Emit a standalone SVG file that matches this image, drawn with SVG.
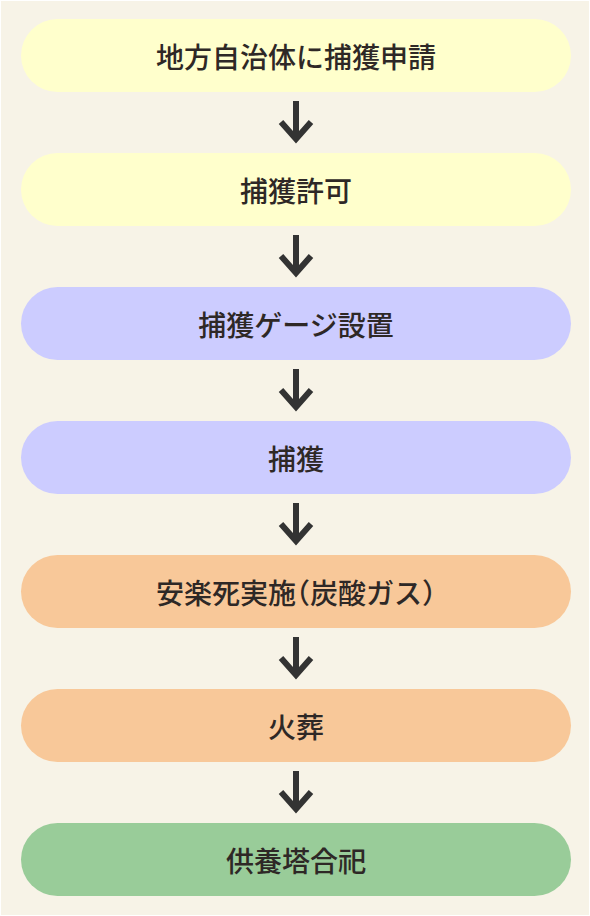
<svg xmlns="http://www.w3.org/2000/svg" width="590" height="916" viewBox="0 0 590 916">
<style>
.t{font-family:"Noto Sans CJK JP","Noto Sans",sans-serif;font-size:28px;font-weight:500;fill:#2e2826;text-anchor:middle;dominant-baseline:central}
.h{font-feature-settings:"halt" 1}
.y{fill:#ffffcc}.b{fill:#ccccff}.o{fill:#f8c899}.g{fill:#99cc99}
.a{fill:none;stroke:#333333;stroke-width:6}
</style>
<rect x="0" y="0" width="590" height="916" fill="#ffffff"/>
<rect x="1" y="1" width="588" height="914" fill="#f7f3e7"/>
<g id="n1"><rect class="y" x="21" y="19" width="550" height="73" rx="36.5"/><text class="t" x="296" y="55.5">地方自治体に捕獲申請</text></g>
<g id="n2"><rect class="y" x="21" y="153" width="550" height="73" rx="36.5"/><text class="t" x="296" y="189.5">捕獲許可</text></g>
<g id="n3"><rect class="b" x="21" y="287" width="550" height="73" rx="36.5"/><text class="t" x="296" y="323.5">捕獲ゲージ設置</text></g>
<g id="n4"><rect class="b" x="21" y="421" width="550" height="73" rx="36.5"/><text class="t" x="296" y="457.5">捕獲</text></g>
<g id="n5"><rect class="o" x="21" y="555" width="550" height="73" rx="36.5"/><text class="t" x="296" y="591.5">安楽死実施<tspan class="h">（</tspan>炭酸ガス<tspan class="h">）</tspan></text></g>
<g id="n6"><rect class="o" x="21" y="689" width="550" height="73" rx="36.5"/><text class="t" x="296" y="725.5">火葬</text></g>
<g id="n7"><rect class="g" x="21" y="823" width="550" height="73" rx="36.5"/><text class="t" x="296" y="859.5">供養塔合祀</text></g>
<g id="connectors">
<g><path class="a" d="M296 101V139M281 122L296 139L311 122"/></g>
<g transform="translate(0,134)"><path class="a" d="M296 101V139M281 122L296 139L311 122"/></g>
<g transform="translate(0,268)"><path class="a" d="M296 101V139M281 122L296 139L311 122"/></g>
<g transform="translate(0,402)"><path class="a" d="M296 101V139M281 122L296 139L311 122"/></g>
<g transform="translate(0,536)"><path class="a" d="M296 101V139M281 122L296 139L311 122"/></g>
<g transform="translate(0,670)"><path class="a" d="M296 101V139M281 122L296 139L311 122"/></g>
</g>
</svg>
